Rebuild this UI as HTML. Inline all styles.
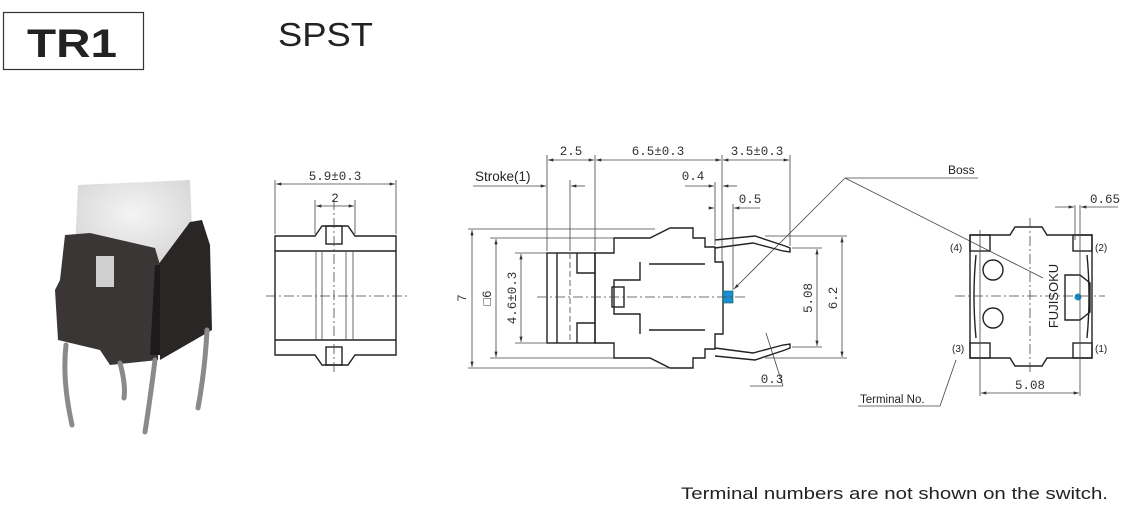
<!DOCTYPE html>
<html><head><meta charset="utf-8"><style>
body{margin:0;background:#fff;width:1132px;height:511px;overflow:hidden;font-family:"Liberation Sans",sans-serif}
svg{position:absolute;left:0;top:0}
text{font-family:"Liberation Sans",sans-serif;fill:#222}
.m{font-family:"Liberation Mono",monospace;font-size:12.5px;fill:#333}
</style></head><body>
<svg width="1132" height="511" viewBox="0 0 1132 511" xmlns="http://www.w3.org/2000/svg">
<defs>
<marker id="a" viewBox="0 0 10 6" refX="10" refY="3" markerWidth="8" markerHeight="4" orient="auto-start-reverse"><path d="M0,0L10,3L0,6z" fill="#333"/></marker>
<radialGradient id="cap" cx="50%" cy="40%" r="60%"><stop offset="0" stop-color="#f4f4f4"/><stop offset="1" stop-color="#d8d8d8"/></radialGradient>
</defs>
<!-- title -->
<rect x="3.5" y="12.5" width="140" height="57" fill="none" stroke="#333" stroke-width="1.2"/>
<text x="27" y="57" font-size="40" font-weight="bold" textLength="90" lengthAdjust="spacingAndGlyphs" fill="#111">TR1</text>
<text x="278" y="46" font-size="33" textLength="95" lengthAdjust="spacingAndGlyphs" fill="#222">SPST</text>
<text x="681" y="499" font-size="17" textLength="427" lengthAdjust="spacingAndGlyphs" fill="#222">Terminal numbers are not shown on the switch.</text>

<!-- photo -->
<g>
<path d="M78,185 L190,180 L192,228 L160,265 L75,248Z" fill="url(#cap)"/>
<path d="M190,222 L202,220 L210,245 L212,330 L160,360 L158,265 Z" fill="#2a2626"/>
<path d="M65,235 L90,233 L155,248 L160,265 L158,360 L110,365 L100,350 L58,340 L55,290 L60,280Z" fill="#3a3636"/>
<rect x="96" y="256" width="18" height="31" fill="#cfcfcf"/>
<path d="M155,265 L160,265 L160,355 L150,355Z" fill="#1c1a1a"/>
<g fill="none" stroke="#8a8a8a" stroke-width="5" stroke-linecap="round">
<path d="M66,345 Q62,380 72,425"/>
<path d="M120,363 Q126,385 124,398"/>
<path d="M155,360 Q150,400 145,432"/>
<path d="M207,330 Q205,370 198,408"/>
</g>
</g>

<g stroke="#222" fill="none" stroke-width="1.4">
<!-- front view -->
<path d="M275,236 L315,236 L322,226 L348,226 L355,236 L396,236 L396,355 L355,355 L348,365 L322,365 L315,355 L275,355Z"/>
<line x1="275" y1="251" x2="396" y2="251"/><line x1="275" y1="340" x2="396" y2="340"/>
<rect x="326" y="226" width="16" height="18"/><rect x="326" y="347" width="16" height="18"/>
</g>
<g stroke="#444" fill="none" stroke-width="0.8">
<line x1="316" y1="251" x2="316" y2="340"/><line x1="322" y1="251" x2="322" y2="340"/>
<line x1="346" y1="251" x2="346" y2="340"/><line x1="353" y1="251" x2="353" y2="340"/>
<line x1="266" y1="296" x2="408" y2="296" stroke-dasharray="10,3,2,3"/>
<line x1="334" y1="200" x2="334" y2="372" stroke-dasharray="10,3,2,3"/>
<line x1="275" y1="180" x2="275" y2="234"/><line x1="396" y1="180" x2="396" y2="234"/>
<line x1="315" y1="200" x2="315" y2="234"/><line x1="355" y1="200" x2="355" y2="234"/>
<line x1="276" y1="184" x2="395" y2="184" marker-start="url(#a)" marker-end="url(#a)"/>
<line x1="316" y1="206" x2="354" y2="206" marker-start="url(#a)" marker-end="url(#a)"/>
</g>
<text class="m" x="335" y="180" text-anchor="middle">5.9±0.3</text>
<text class="m" x="335" y="202" text-anchor="middle">2</text>

<!-- side view -->
<g stroke="#222" fill="none" stroke-width="1.4">
<rect x="547" y="253" width="48" height="90"/>
<line x1="557" y1="253" x2="557" y2="343"/>
<path d="M577,253 L577,273 L595,273 M577,343 L577,323 L595,323"/>
<path d="M595,253 L614,253 L614,238 L650,238 L670,228 L693,228 L693,238 L705,238 L705,247 L715,247 L715,262 L723,262 L723,334 L715,334 L715,349 L705,349 L705,358 L693,358 L693,368 L670,368 L650,358 L614,358 L614,343 L595,343Z"/>
<path d="M640,262 L640,280 L614,280 L614,314 L640,314 L640,334"/>
<path d="M649,264 L705,264 M649,330 L705,330"/>
<rect x="612" y="287" width="12" height="20"/>
<path d="M715,240 L755,236 L785,246 L790,248 L790,252 L783,251 L753,243 L715,248"/>
<path d="M715,348 L753,353 L783,345 L790,344 L790,348 L785,350 L755,360 L715,356"/>
</g>
<rect x="723" y="291" width="10" height="12" fill="#1a8fd0" stroke="#155" stroke-width="0.6"/>
<g stroke="#444" fill="none" stroke-width="0.8">
<line x1="570" y1="253" x2="570" y2="343" stroke-dasharray="6,3"/>
<line x1="537" y1="297" x2="748" y2="297" stroke-dasharray="10,3,2,3"/>
<line x1="547" y1="155" x2="547" y2="251"/><line x1="595" y1="155" x2="595" y2="251"/>
<line x1="722" y1="155" x2="722" y2="262"/><line x1="790" y1="155" x2="790" y2="246"/>
<line x1="570" y1="180" x2="570" y2="251"/><line x1="715" y1="182" x2="715" y2="245"/>
<line x1="733" y1="204" x2="733" y2="290"/>
<line x1="548" y1="160" x2="594" y2="160" marker-start="url(#a)" marker-end="url(#a)"/>
<line x1="596" y1="160" x2="721" y2="160" marker-start="url(#a)" marker-end="url(#a)"/>
<line x1="723" y1="160" x2="789" y2="160" marker-start="url(#a)" marker-end="url(#a)"/>
<line x1="473" y1="186" x2="546" y2="186" marker-end="url(#a)"/><line x1="571" y1="186" x2="585" y2="186" marker-start="url(#a)"/>
<line x1="685" y1="186" x2="714" y2="186" marker-end="url(#a)"/><line x1="723" y1="186" x2="737" y2="186" marker-start="url(#a)"/>
<line x1="709" y1="208" x2="714" y2="208" marker-end="url(#a)"/><line x1="734" y1="208" x2="760" y2="208" marker-start="url(#a)"/>
<line x1="468" y1="229" x2="655" y2="229"/><line x1="468" y1="368" x2="670" y2="368"/>
<line x1="490" y1="238" x2="614" y2="238"/><line x1="490" y1="358" x2="614" y2="358"/>
<line x1="515" y1="253" x2="547" y2="253"/><line x1="515" y1="343" x2="547" y2="343"/>
<line x1="472" y1="230" x2="472" y2="367" marker-start="url(#a)" marker-end="url(#a)"/>
<line x1="496" y1="239" x2="496" y2="357" marker-start="url(#a)" marker-end="url(#a)"/>
<line x1="521" y1="254" x2="521" y2="342" marker-start="url(#a)" marker-end="url(#a)"/>
<line x1="792" y1="248" x2="822" y2="248"/><line x1="792" y1="347" x2="822" y2="347"/>
<line x1="765" y1="236" x2="847" y2="236"/><line x1="765" y1="358" x2="847" y2="358"/>
<line x1="817" y1="249" x2="817" y2="346" marker-start="url(#a)" marker-end="url(#a)"/>
<line x1="842" y1="237" x2="842" y2="357" marker-start="url(#a)" marker-end="url(#a)"/>
<line x1="766" y1="333" x2="783" y2="386"/><line x1="750" y1="386" x2="783" y2="386"/>
<line x1="845" y1="178" x2="978" y2="178"/>
<line x1="845" y1="178" x2="734" y2="289" marker-end="url(#a)"/>
<line x1="845" y1="178" x2="1043" y2="278"/>
</g>
<text class="m" x="571" y="155" text-anchor="middle">2.5</text>
<text class="m" x="658" y="155" text-anchor="middle">6.5±0.3</text>
<text class="m" x="757" y="155" text-anchor="middle">3.5±0.3</text>
<text x="475" y="181" font-size="13.5">Stroke(1)</text>
<text class="m" x="693" y="180" text-anchor="middle">0.4</text>
<text class="m" x="750" y="203" text-anchor="middle">0.5</text>
<text class="m" x="772" y="383" text-anchor="middle">0.3</text>
<text x="948" y="174" font-size="12">Boss</text>
<text class="m" transform="translate(466,298) rotate(-90)" text-anchor="middle">7</text>
<text class="m" transform="translate(491,298) rotate(-90)" text-anchor="middle">□6</text>
<text class="m" transform="translate(516,298) rotate(-90)" text-anchor="middle">4.6±0.3</text>
<text class="m" transform="translate(812,298) rotate(-90)" text-anchor="middle">5.08</text>
<text class="m" transform="translate(837,298) rotate(-90)" text-anchor="middle">6.2</text>

<!-- right view -->
<g stroke="#222" fill="none" stroke-width="1.4">
<path d="M970,235 L1010,235 L1015,227 L1042,227 L1047,235 L1092,235 L1092,358 L1047,358 L1042,366 L1015,366 L1010,358 L970,358Z"/>
<rect x="970" y="235" width="20" height="16"/><rect x="1073" y="235" width="19" height="16"/>
<rect x="970" y="343" width="20" height="15"/><rect x="1073" y="343" width="19" height="15"/>
<circle cx="993" cy="270" r="10"/><circle cx="993" cy="318" r="10"/>
<path d="M1065,275 L1080,275 L1090,283 L1090,312 L1080,320 L1065,320Z"/>
<path d="M976,255 Q972,296 976,338 M1087,255 Q1091,296 1087,338"/>
</g>
<circle cx="1078" cy="297" r="3.5" fill="#1a8fd0"/>
<g stroke="#444" fill="none" stroke-width="0.8">
<line x1="955" y1="296" x2="1105" y2="296" stroke-dasharray="10,3,2,3"/>
<line x1="1030" y1="218" x2="1030" y2="375" stroke-dasharray="10,3,2,3"/>
<line x1="980" y1="230" x2="980" y2="396"/><line x1="1080" y1="205" x2="1080" y2="396"/>
<line x1="1075" y1="205" x2="1075" y2="240"/>
<line x1="981" y1="393" x2="1079" y2="393" marker-start="url(#a)" marker-end="url(#a)"/>
<line x1="1055" y1="207" x2="1074" y2="207" marker-end="url(#a)"/><line x1="1081" y1="207" x2="1118" y2="207" marker-start="url(#a)"/>
<line x1="858" y1="406" x2="940" y2="406"/><line x1="940" y1="406" x2="956" y2="360"/>
</g>
<text class="m" x="1030" y="389" text-anchor="middle">5.08</text>
<text class="m" x="1090" y="203">0.65</text>
<text x="860" y="403" font-size="11.5">Terminal No.</text>
<text font-size="10" x="950" y="251" fill="#444">(4)</text>
<text font-size="10" x="1095" y="251" fill="#444">(2)</text>
<text font-size="10" x="952" y="352" fill="#444">(3)</text>
<text font-size="10" x="1095" y="352" fill="#444">(1)</text>
<text font-size="13" transform="translate(1058,296) rotate(-90)" text-anchor="middle">FUJISOKU</text>
</svg>
</body></html>
